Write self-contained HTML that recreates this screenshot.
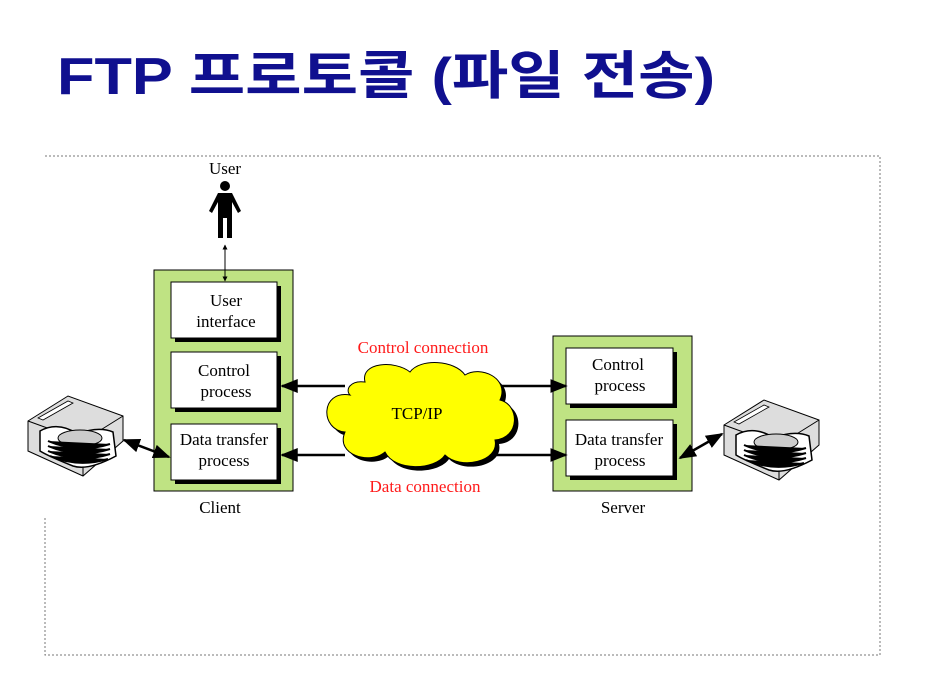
<!DOCTYPE html>
<html><head><meta charset="utf-8"><style>
html,body{margin:0;padding:0;background:#fff;width:928px;height:680px;overflow:hidden}
svg{display:block}
</style></head><body>
<svg width="928" height="680" viewBox="0 0 928 680" xmlns="http://www.w3.org/2000/svg">
<defs>
<marker id="ah" viewBox="0 0 10 10" refX="9" refY="5" markerWidth="5" markerHeight="5" orient="auto-start-reverse"><path d="M0,0L10,5L0,10z" fill="#000"/></marker>
<marker id="as" viewBox="0 0 10 10" refX="9" refY="5" markerWidth="7" markerHeight="7" orient="auto-start-reverse"><path d="M0,1L10,5L0,9z" fill="#000"/></marker>
<g id="disk">
  <path d="M0,25 L40,0 L95,20 L95,45 L55,80 L0,55 Z" fill="#ddd" stroke="#000" stroke-width="1"/>
  <path d="M0,25 L55,45 L95,20" fill="none" stroke="#000"/>
  <path d="M55,45 L55,80" stroke="#000"/>
  <path d="M10,22 L40,5 L45,7 L15,24 Z" fill="#fff" stroke="#000" stroke-width="0.8"/>
  <path d="M12,35 Q30,25 50,38 Q70,30 85,36 L88,60 Q60,75 45,70 Q20,60 12,55 Z" fill="#fff" stroke="#000" stroke-width="1.5"/>
  <ellipse cx="52" cy="42" rx="22" ry="8" fill="#ccc" stroke="#000"/>
  <g stroke="#000" stroke-width="2">
  <path d="M20,45 Q50,58 82,48"/><path d="M20,50 Q50,63 82,53"/><path d="M20,55 Q50,68 82,58"/><path d="M22,60 Q50,72 80,63"/>
  </g>
</g>
</defs>
<text x="57" y="94" font-family="'Liberation Sans','Noto Sans CJK KR',sans-serif" font-weight="bold" font-size="52" fill="#10108f" textLength="658" lengthAdjust="spacingAndGlyphs">FTP 프로토콜 (파일 전송)</text>

<g stroke="#777" stroke-width="1" stroke-dasharray="2,2" fill="none">
<path d="M45,156 H880 V655 H45 V516"/>
</g>

<g font-family="'Liberation Serif',serif" font-size="17" fill="#000" text-anchor="middle">
<text x="225" y="174">User</text>
<circle cx="225" cy="186" r="5" fill="#000"/>
<path d="M218,193 H232 L241,211 L238,213 L232,202 V238 H227 V218 H223 V238 H218 V202 L212,213 L209,211 Z" fill="#000"/>

<!-- client -->
<rect x="154" y="270" width="139" height="221" fill="#bfe383" stroke="#000"/>
<line x1="225" y1="245" x2="225" y2="281" stroke="#000" stroke-width="1" marker-start="url(#ah)" marker-end="url(#ah)"/>
<rect x="175" y="286" width="106" height="56" fill="#000"/>
<rect x="171" y="282" width="106" height="56" fill="#fff" stroke="#000"/>
<text x="226" y="306">User</text><text x="226" y="327">interface</text>
<rect x="175" y="356" width="106" height="56" fill="#000"/>
<rect x="171" y="352" width="106" height="56" fill="#fff" stroke="#000"/>
<text x="224" y="376">Control</text><text x="226" y="397">process</text>
<rect x="175" y="428" width="106" height="56" fill="#000"/>
<rect x="171" y="424" width="106" height="56" fill="#fff" stroke="#000"/>
<text x="224" y="445">Data transfer</text><text x="224" y="466">process</text>
<text x="220" y="513">Client</text>

<!-- server -->
<rect x="553" y="336" width="139" height="155" fill="#bfe383" stroke="#000"/>
<rect x="570" y="352" width="107" height="56" fill="#000"/>
<rect x="566" y="348" width="107" height="56" fill="#fff" stroke="#000"/>
<text x="618" y="370">Control</text><text x="620" y="391">process</text>
<rect x="570" y="424" width="107" height="56" fill="#000"/>
<rect x="566" y="420" width="107" height="56" fill="#fff" stroke="#000"/>
<text x="619" y="445">Data transfer</text><text x="620" y="466">process</text>
<text x="623" y="513">Server</text>

<line x1="345" y1="386" x2="282" y2="386" stroke="#000" stroke-width="2.5" marker-end="url(#as)"/>
<line x1="490" y1="386" x2="566" y2="386" stroke="#000" stroke-width="2.5" marker-end="url(#as)"/>
<line x1="345" y1="455" x2="282" y2="455" stroke="#000" stroke-width="2.5" marker-end="url(#as)"/>
<line x1="490" y1="455" x2="566" y2="455" stroke="#000" stroke-width="2.5" marker-end="url(#as)"/>

<g transform="translate(4,4)">
<path d="M350,395 C320,390 320,430 345,432 C335,455 370,465 385,452 C395,472 435,470 445,455 C460,470 500,462 495,440 C520,438 520,405 500,400 C510,378 480,365 465,375 C455,360 420,358 410,372 C395,360 360,362 365,382 C350,380 345,390 350,395 Z" fill="#000"/>
</g>
<path d="M350,395 C320,390 320,430 345,432 C335,455 370,465 385,452 C395,472 435,470 445,455 C460,470 500,462 495,440 C520,438 520,405 500,400 C510,378 480,365 465,375 C455,360 420,358 410,372 C395,360 360,362 365,382 C350,380 345,390 350,395 Z" fill="#ffff00" stroke="#000" stroke-width="1"/>
<text x="417" y="419">TCP/IP</text>
<text x="423" y="353" fill="#ff1a1a">Control connection</text>
<text x="425" y="492" fill="#ff1a1a">Data connection</text>

<use href="#disk" x="28" y="396"/>
<use href="#disk" x="724" y="400"/>
<line x1="124" y1="440" x2="169" y2="457" stroke="#000" stroke-width="2.5" marker-start="url(#as)" marker-end="url(#as)"/>
<line x1="680" y1="458" x2="722" y2="434" stroke="#000" stroke-width="2.5" marker-start="url(#as)" marker-end="url(#as)"/>
</g>
</svg>
</body></html>
